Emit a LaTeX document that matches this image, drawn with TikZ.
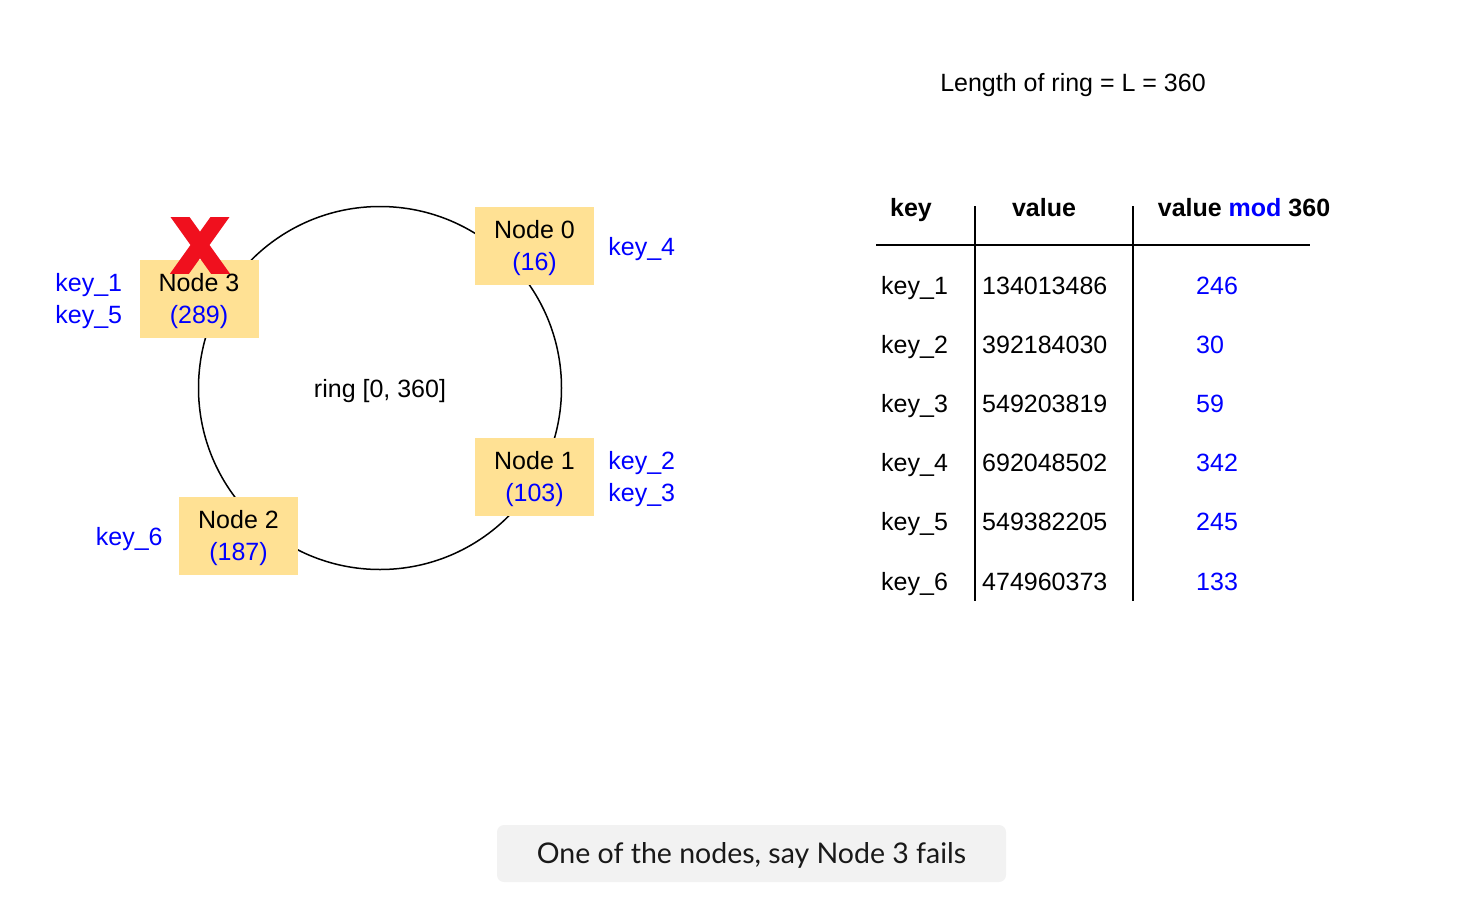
\documentclass[tikz,border=0pt]{standalone}
\usepackage{fontspec}
\setmainfont{Liberation Sans}
\newfontfamily\capfont{Lato}
\usetikzlibrary{positioning}
\definecolor{nodefill}{HTML}{FFE194}
\definecolor{keyblue}{HTML}{0000FF}
\definecolor{failred}{HTML}{F0101E}
\definecolor{capfill}{HTML}{F2F2F2}
\newcommand{\topstrut}{\rule{0pt}{23pt}}
\tikzset{
	oneline/.style={inner sep=0pt, text height=23pt, text depth=5pt},
	ringnode/.style={fill=nodefill, minimum width=119pt, minimum height=78pt, align=center, inner sep=0pt},
	keylabel/.style={text=keyblue, align=left, inner sep=0pt},
	cell/.style={oneline, anchor=west},
	head/.style={oneline, font=\fontsize{25}{30}\selectfont\bfseries},
	tline/.style={line width=1.5pt}
}

\begin{document}
\begin{tikzpicture}[x=1pt, y=-1pt, font=\fontsize{25}{32}\selectfont]
	\useasboundingbox (0,0) rectangle (1460,908);
	\draw[line width=1.5pt] (380,388) circle (181.5pt);
	\node[oneline] (ring) at (380,388) {ring [0, 360]};
	\node[ringnode] (n0) at (534.5,246) {\topstrut Node 0\\\textcolor{keyblue}{(16)}};
	\node[ringnode] (n1) at (534.5,477) {\topstrut Node 1\\\textcolor{keyblue}{(103)}};
	\node[ringnode] (n2) at (238.5,536) {\topstrut Node 2\\\textcolor{keyblue}{(187)}};
	\node[ringnode] (n3) at (199,299) {\topstrut Node 3\\\textcolor{keyblue}{(289)}};
	\node[keylabel, oneline, right=14pt of n0] (k4) {key\_4};
	\node[keylabel, right=14pt of n1] (k23) {\topstrut key\_2\\key\_3};
	\node[keylabel, oneline, left=16pt of n2] (k6) {key\_6};
	\node[keylabel, left=17pt of n3] (k15) {\topstrut key\_1\\key\_5};
	\begin{scope}
		\clip (170,217) rectangle (230,273);
		\draw[failred, line width=15.5pt] (168,200.2) -- (232,289.8);
		\draw[failred, line width=15.5pt] (232,200.2) -- (168,289.8);
	\end{scope}
	\node[oneline] (title) at (1073,82) {Length of ring = L = 360};
	\node[head] (hkey) at (911,207) {key};
	\node[head] (hval) at (1044,207) {value};
	\node[head] (hmod) at (1244,207) {value \textcolor{keyblue}{mod} 360};
	\draw[tline] (876,245) -- (1310,245);
	\draw[tline] (975,206) -- (975,601);
	\draw[tline] (1133,206) -- (1133,601);
	\foreach \v/\m [count=\i] in {134013486/246, 392184030/30, 549203819/59, 692048502/342, 549382205/245, 474960373/133}
	{
		\node[cell] (key\i) at (881,{285+59.2*(\i-1)}) {key\_\i};
		\node[cell] (val\i) at (982,{285+59.2*(\i-1)}) {\v};
		\node[cell, text=keyblue] (mod\i) at (1196,{285+59.2*(\i-1)}) {\m};
	}
	\node[fill=capfill, rounded corners=7pt, minimum width=509pt, minimum height=57pt, font=\capfont\fontsize{28.5}{32}\selectfont, text=black!90, text height=26pt, text depth=6pt] (caption) at (751.5,853.5) {One of the nodes, say Node 3 fails};
\end{tikzpicture}
\end{document}
